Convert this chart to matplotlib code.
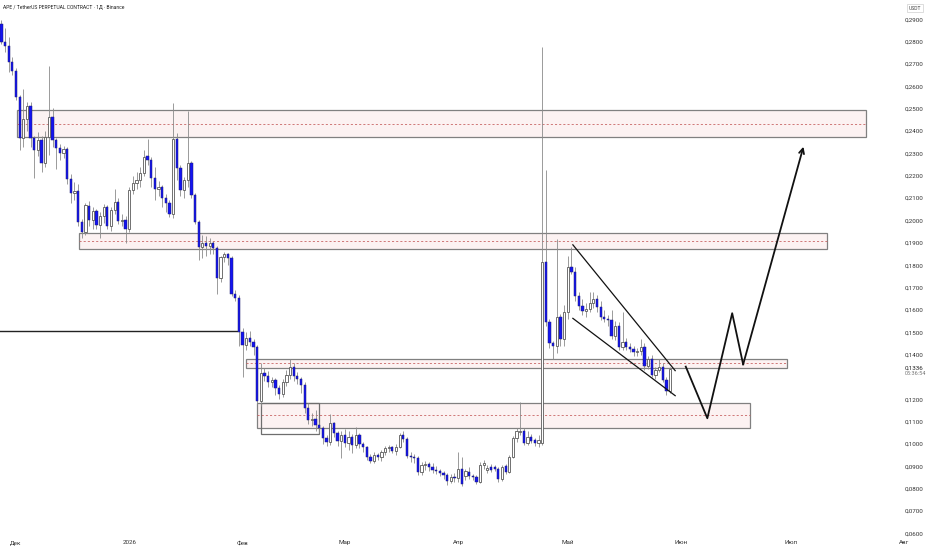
import numpy as np
import matplotlib.pyplot as plt
from matplotlib.patches import Rectangle

plt.rcParams['font.family'] = ['Roboto', 'DejaVu Sans']

# daily candles, x = days since 1 Dec 2025 (first candle 27 Nov)
first_day = -4
opens = [.2878, .2800, .2780, .2710, .2668, .2552, .2368, .2455, .2512, .2368,
         .2315, .2362, .2255, .2372, .2462, .2358, .2325, .2300, .2318, .2185,
         .2122, .2130, .1993, .1950, .2066, .2002, .2042, .1978, .2022, .2058,
         .1975, .2047, .2083, .1997, .2003, .1960, .2137, .2168, .2180, .2212,
         .2288, .2270, .2190, .2140, .2150, .2100, .2080, .2030, .2365, .2235,
         .2136, .2180, .2257, .2114, .1993, .1880, .1898, .1885, .1898, .1875,
         .1742, .1836, .1848, .1830, .1671, .1653, .1500, .1442, .1473, .1455,
         .1435, .1190, .1318, .1305, .1278, .1285, .1250, .1222, .1278, .1308,
         .1345, .1302, .1290, .1262, .1160, .1105, .1110, .1085, .1070, .1025,
         .1008, .1094, .1050, .1015, .1040, .1005, .1030, .0995, .1040, .1000,
         .0985, .0943, .0925, .0950, .0940, .0965, .0982, .0985, .0970, .0988,
         .1040, .1020, .0947, .0940, .0935, .0876, .0906, .0912, .0895, .0884,
         .0878, .0868, .0861, .0836, .0851, .0846, .0887, .0855, .0876, .0856,
         .0853, .0831, .0906, .0884, .0898, .0898, .0887, .0842, .0900, .0876,
         .0943, .1025, .1055, .1059, .1006, .1032, .1018, .1006, .1005, .1815,
         .1545, .1450, .1440, .1567, .1470, .1590, .1790, .1770, .1660, .1616,
         .1595, .1605, .1630, .1650, .1615, .1570, .1560, .1555, .1485, .1530,
         .1435, .1458, .1435, .1425, .1410, .1415, .1435, .1350, .1378, .1310,
         .1332, .1345, .1285, .1238]
highs = [.2895, .2860, .2820, .2730, .2680, .2560, .2590, .2530, .2530, .2380,
         .2395, .2380, .2400, .2690, .2505, .2370, .2340, .2335, .2330, .2210,
         .2170, .2165, .2005, .2080, .2085, .2060, .2050, .2040, .2075, .2070,
         .2060, .2140, .2100, .2030, .2020, .2150, .2200, .2215, .2240, .2315,
         .2365, .2285, .2240, .2175, .2160, .2120, .2090, .2525, .2390, .2250,
         .2195, .2490, .2265, .2125, .2000, .1935, .1930, .1920, .1910, .1885,
         .1840, .1860, .1855, .1840, .1690, .1665, .1520, .1500, .1505, .1470,
         .1445, .1363, .1340, .1325, .1300, .1295, .1265, .1290, .1330, .1380,
         .1360, .1320, .1300, .1275, .1185, .1140, .1150, .1100, .1080, .1040,
         .1135, .1100, .1060, .1060, .1065, .1060, .1045, .1075, .1050, .1010,
         .0990, .0955, .0965, .0960, .0975, .0990, .0995, .0992, .1000, .1050,
         .1060, .1030, .0965, .0955, .0945, .0920, .0925, .0920, .0915, .0900,
         .0890, .0880, .0870, .0865, .0870, .0965, .0943, .0890, .0895, .0865,
         .0860, .0920, .0930, .0905, .0910, .0905, .0895, .0905, .0910, .0950,
         .1035, .1070, .1189, .1070, .1060, .1045, .1025, .1040, .2775, .2226,
         .1560, .1460, .1917, .1580, .1620, .1840, .1882, .1790, .1680, .1650,
         .1630, .1680, .1680, .1665, .1640, .1600, .1575, .1600, .1550, .1545,
         .1590, .1475, .1450, .1440, .1430, .1470, .1450, .1395, .1400, .1345,
         .1380, .1360, .1300, .1345]
lows = [.2790, .2755, .2665, .2650, .2540, .2315, .2330, .2400, .2330, .2190,
        .2290, .2215, .2240, .2295, .2330, .2230, .2270, .2280, .2165, .2080,
        .2090, .1975, .1920, .1935, .1975, .1960, .1960, .1920, .1990, .1960,
        .1955, .2030, .1985, .1975, .1900, .1950, .2120, .2140, .2150, .2200,
        .2250, .2150, .2090, .2110, .2060, .2040, .2015, .2010, .2180, .2110,
        .2100, .2150, .2100, .1985, .1823, .1830, .1840, .1850, .1850, .1670,
        .1725, .1815, .1800, .1660, .1640, .1440, .1300, .1420, .1440, .1400,
        .1180, .1170, .1280, .1255, .1255, .1220, .1200, .1210, .1260, .1290,
        .1280, .1270, .1230, .1140, .1090, .1080, .1060, .1050, .1000, .0990,
        .0995, .1030, .0990, .0935, .0985, .0975, .0960, .0980, .0980, .0965,
        .0930, .0915, .0915, .0930, .0925, .0950, .0965, .0960, .0950, .0980,
        .1010, .0935, .0920, .0915, .0860, .0860, .0885, .0880, .0870, .0865,
        .0855, .0845, .0815, .0825, .0830, .0830, .0810, .0840, .0845, .0840,
        .0820, .0825, .0890, .0870, .0875, .0880, .0830, .0835, .0865, .0870,
        .0935, .1010, .1040, .0995, .0995, .1005, .0990, .0985, .0995, .1530,
        .1430, .1380, .1405, .1440, .1440, .1560, .1760, .1640, .1600, .1577,
        .1570, .1590, .1610, .1590, .1555, .1545, .1530, .1470, .1465, .1420,
        .1420, .1420, .1410, .1395, .1395, .1400, .1330, .1335, .1300, .1290,
        .1320, .1275, .1219, .1230]
closes = [.2800, .2780, .2710, .2668, .2552, .2368, .2455, .2512, .2368, .2315,
          .2362, .2255, .2372, .2462, .2360, .2325, .2300, .2318, .2185, .2122,
          .2132, .1993, .1950, .2068, .2002, .2042, .1978, .2022, .2058, .1975,
          .2047, .2083, .1997, .2003, .1960, .2137, .2168, .2180, .2212, .2284,
          .2270, .2190, .2140, .2150, .2100, .2080, .2030, .2365, .2235, .2136,
          .2180, .2257, .2114, .1993, .1880, .1898, .1885, .1898, .1875, .1742,
          .1836, .1848, .1830, .1671, .1653, .1500, .1442, .1473, .1455, .1435,
          .1190, .1318, .1305, .1278, .1285, .1250, .1222, .1278, .1308, .1345,
          .1302, .1290, .1262, .1160, .1105, .1110, .1085, .1070, .1025, .1008,
          .1094, .1050, .1015, .1040, .1005, .1030, .0995, .1040, .1000, .0985,
          .0943, .0925, .0950, .0940, .0965, .0982, .0985, .0970, .0988, .1040,
          .1020, .0947, .0940, .0935, .0876, .0906, .0912, .0895, .0884, .0878,
          .0868, .0861, .0836, .0851, .0846, .0887, .0821, .0880, .0856, .0851,
          .0831, .0906, .0916, .0891, .0884, .0887, .0842, .0898, .0876, .0943,
          .1025, .1059, .1059, .1006, .1032, .1014, .1006, .1018, .1815, .1545,
          .1450, .1440, .1567, .1470, .1590, .1790, .1770, .1660, .1616, .1595,
          .1605, .1630, .1650, .1615, .1570, .1560, .1555, .1485, .1530, .1435,
          .1458, .1435, .1425, .1410, .1415, .1435, .1350, .1378, .1310, .1332,
          .1345, .1285, .1238, .1336]

last_price = 0.1336
countdown = '05:36:54'

month_days = [0, 31, 62, 90, 121, 151, 182, 212, 243]
month_labels = ['Дек', '2026', 'Фев', 'Мар', 'Апр', 'Май', 'Июн', 'Июл', 'Авг']
# 0,1300 is covered by the last-price label
price_ticks = [round(0.06 + 0.01 * k, 2) for k in range(24) if k != 7]

# supply / demand zones
zone_start = [0.3, 17.2, 62.9, 66.0]
zone_end = [232.6, 221.9, 211.0, 200.9]
zone_low = [0.2375, 0.1871, 0.1341, 0.1073]
zone_high = [0.2492, 0.1945, 0.1379, 0.1185]
zone_mid = [0.2432, 0.1910, 0.1360, 0.1130]

# small bracket under the lower zone
bracket_x = [67.0, 83.0]
bracket_y = [0.1045, 0.1185]

# old support line on the left
level_x = [-4.4, 60.5]
level_y = 0.1505

# falling wedge
wedge_up_x = [152.4, 180.4]
wedge_up_y = [0.1891, 0.1328]
wedge_lo_x = [152.4, 180.4]
wedge_lo_y = [0.1562, 0.1216]

# projected path
path_x = [183.3, 189.2, 196.0, 199.0, 215.5]
path_y = [0.1346, 0.1115, 0.1585, 0.1356, 0.2330]

days = np.arange(len(closes)) + first_day
o = np.array(opens)
c = np.array(closes)
h = np.array(highs)
l = np.array(lows)
up = c >= o

fig = plt.figure(figsize=(9.32, 5.5), dpi=100)
ax = fig.add_axes([0, 13 / 550, 898 / 932, 537 / 550])
ax.set_xlim(-4.38, 241.38)
ax.set_ylim(0.05837, 0.29864)
for s in ax.spines.values():
    s.set_visible(False)

# zones
for x0, x1, lo, hi, mid in zip(zone_start, zone_end, zone_low, zone_high, zone_mid):
    ax.add_patch(Rectangle((x0, lo), x1 - x0, hi - lo, facecolor='#fcf2f2',
                           edgecolor='#808080', lw=0.9, zorder=1))
    ax.plot([x0, x1], [mid, mid], color='#c86464', lw=0.6, ls=(0, (2.5, 2.5)), zorder=1)
ax.add_patch(Rectangle((bracket_x[0], bracket_y[0]), bracket_x[1] - bracket_x[0],
                       bracket_y[1] - bracket_y[0], facecolor='none',
                       edgecolor='#6e6e6e', lw=0.9, zorder=1))

ax.plot(level_x, [level_y, level_y], color='#222222', lw=1.0, zorder=2)

# candles
ax.vlines(days, l, h, color='#8a8a8a', lw=0.6, zorder=2)
body_lo = np.minimum(o, c)
body_h = np.maximum(np.abs(c - o), 0.0004)
ax.bar(days[~up], body_h[~up], bottom=body_lo[~up], width=0.62,
       color='#1414f2', edgecolor='#202070', lw=0.35, zorder=3)
ax.bar(days[up], body_h[up], bottom=body_lo[up], width=0.62,
       color='white', edgecolor='#5a5a5a', lw=0.6, zorder=3)

# wedge
ax.plot(wedge_up_x, wedge_up_y, color='#111111', lw=0.9, zorder=4)
ax.plot(wedge_lo_x, wedge_lo_y, color='#111111', lw=0.9, zorder=4)

# path + arrow
ax.plot(path_x[:-1], path_y[:-1], color='#111111', lw=1.3, zorder=4)
ax.annotate('', xy=(path_x[-1], path_y[-1]), xytext=(path_x[-2], path_y[-2]),
            arrowprops=dict(arrowstyle='->', color='#111111', lw=1.3,
                            mutation_scale=9, shrinkA=0, shrinkB=0), zorder=4)

# axes text
ax.yaxis.tick_right()
ax.set_yticks(price_ticks)
ax.set_yticklabels([f'{v:.4f}'.replace('.', ',') for v in price_ticks])
ax.tick_params(axis='y', length=0, pad=5, labelsize=4.5, labelcolor='#333333')
ax.set_xticks(month_days[:-1])
ax.set_xticklabels(month_labels[:-1])
ax.tick_params(axis='x', length=0, pad=2.5, labelsize=4.5, labelcolor='#333333')
ax.annotate(month_labels[-1], xy=(month_days[-1], 0), xycoords=('data', 'axes fraction'),
            xytext=(0, -2.5), textcoords='offset points', ha='center', va='top',
            fontsize=4.5, color='#333333', annotation_clip=False)

ax.annotate(f'{last_price:.4f}'.replace('.', ','), xy=(1, last_price),
            xycoords=('axes fraction', 'data'), xytext=(5, 0.6),
            textcoords='offset points', ha='left', va='center', fontsize=4.5,
            color='#222222', annotation_clip=False)
ax.annotate(countdown, xy=(1, last_price), xycoords=('axes fraction', 'data'),
            xytext=(5, -3.6), textcoords='offset points', ha='left', va='center',
            fontsize=4.0, color='#777777', annotation_clip=False)

fig.text(915 / 932, 1 - 8 / 550, 'USDT', ha='center', va='center', fontsize=3.6,
         color='#444444',
         bbox=dict(boxstyle='square,pad=0.35', fc='white', ec='#cfcfcf', lw=0.5))
fig.text(3 / 932, 1 - 7 / 550, 'APE / TetherUS PERPETUAL CONTRACT · 1Д · Binance',
         ha='left', va='center', fontsize=3.6, color='#222222')

fig.savefig('out.png', dpi=100, facecolor='white')
